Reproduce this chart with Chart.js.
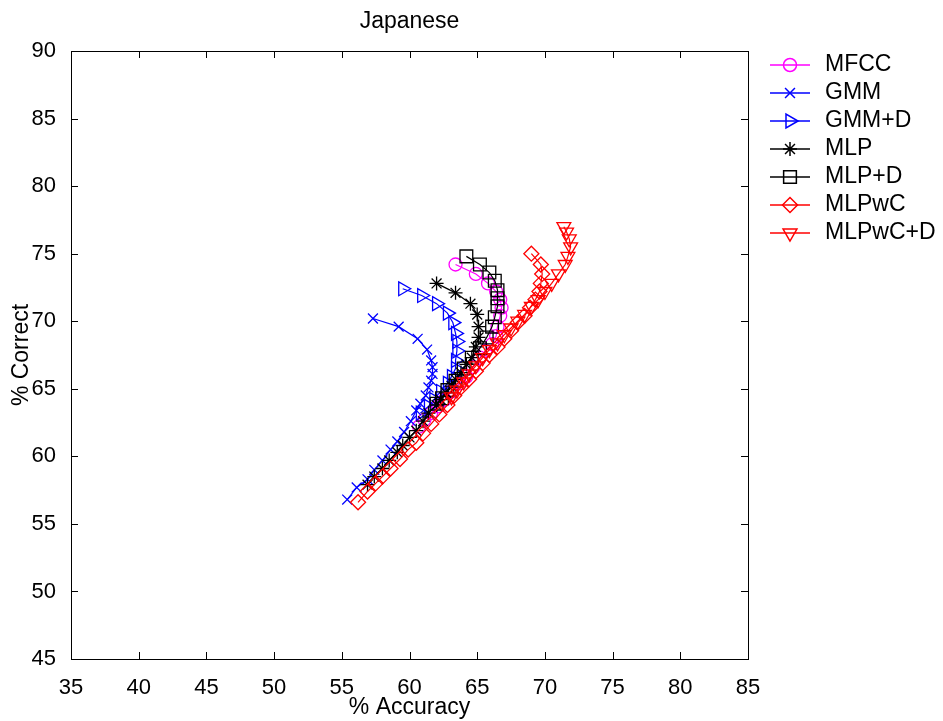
<!DOCTYPE html>
<html>
<head>
<meta charset="utf-8">
<title>Japanese</title>
<script src="https://cdn.jsdelivr.net/npm/chart.js@4"></script>
<style>
  body { margin: 0; background: #fff; }
</style>
</head>
<body>
<canvas id="myChart" width="943" height="721"></canvas>
<script>
// values (% accuracy, % correct)
let mfccAcc = [63.4,64.9,65.8,66.4,66.7,66.8,66.7,66.5,66.4,66.1,65.6,65.2,64.7,64.2,63.7,63.1,62.6,62.1,61.6,61.1,60.7];
let mfccCor = [74.2,73.5,72.8,72.2,71.6,71.0,70.4,69.6,68.9,68.3,67.8,67.3,66.6,65.9,65.4,64.8,64.2,63.7,63.2,62.7,62.2];

let gmmAcc = [57.3,59.2,60.6,61.3,61.6,61.7,61.7,61.6,61.4,61.2,60.8,60.5,60.1,59.6,59.1,58.6,58.0,57.4,56.9,56.1,55.4];
let gmmCor = [70.2,69.6,68.7,67.9,67.1,66.6,66.1,65.6,65.1,64.5,63.9,63.4,62.6,61.8,61.1,60.5,59.7,59.0,58.3,57.7,56.8];

let gmmDAcc = [59.5,60.9,62.0,62.8,63.2,63.4,63.5,63.5,63.4,63.4,63.1,62.8,62.3,61.8,61.4,60.8];
let gmmDCor = [72.4,71.9,71.3,70.6,69.9,69.1,68.5,67.8,67.1,66.5,65.9,65.4,64.8,64.2,63.7,63.2];

let mlpAcc = [62.0,63.4,64.5,65.0,65.1,65.1,64.9,64.6,64.2,63.8,63.4,63.1,62.7,62.3,62.0,61.4,61.0,60.5,60.0,59.5,59.1,58.5,58.0,57.4,56.9];
let mlpCor = [72.8,72.1,71.3,70.5,69.6,68.8,68.1,67.3,66.8,66.2,65.7,65.2,64.7,64.2,63.8,63.2,62.6,61.9,61.4,60.8,60.3,59.7,59.1,58.5,57.9];

let mlpDAcc = [64.2,65.2,65.9,66.3,66.5,66.5,66.5,66.3,66.1,65.7,65.2,64.6,64.0,63.4,62.8,62.4,62.0];
let mlpDCor = [74.8,74.2,73.6,73.0,72.3,71.7,71.1,70.3,69.6,68.8,68.0,67.3,66.5,65.6,64.9,64.3,63.9];

let mlpwcAcc = [69.0,69.7,69.8,69.7,69.6,69.3,68.9,68.5,68.0,67.5,67.0,66.5,65.9,65.4,64.9,64.4,63.8,63.3,62.8,62.2,61.6,61.0,60.5,59.9,59.3,58.6,58.0,57.5,56.9,56.2];
let mlpwcCor = [75.0,74.2,73.5,72.8,72.2,71.6,71.0,70.4,69.9,69.3,68.7,68.1,67.5,66.9,66.3,65.7,65.1,64.5,63.8,63.1,62.4,61.7,61.0,60.5,59.8,59.1,58.5,58.0,57.4,56.6];

let mlpwcDAcc = [71.4,71.6,71.8,71.9,71.7,71.5,71.0,70.5,70.0,69.5,69.0,68.5,68.0,67.5,67.0,66.5,65.9,65.4,64.9,64.4,64.0,63.5,63.1];
let mlpwcDCor = [77.0,76.6,76.1,75.5,74.8,74.2,73.5,72.8,72.2,71.6,71.1,70.5,70.0,69.5,69.0,68.4,67.9,67.3,66.7,66.1,65.5,64.9,64.4];

let xTicks = [35,40,45,50,55,60,65,70,75,80,85];
let yTicks = [45,50,55,60,65,70,75,80,85,90];

const titleText = 'Japanese';
const fontFam = "'Liberation Sans', Arial, sans-serif";

function pts(xs, ys) {
    return xs.map((v, i) => ({x: v, y: ys[i]}));
}

function series(label, xs, ys, color, style, radius, rotation, order) {
    return {
        label: label,
        data: pts(xs, ys),
        showLine: true,
        borderColor: color,
        backgroundColor: 'rgba(0,0,0,0)',
        borderWidth: 1.2,
        pointStyle: style,
        pointRadius: radius,
        pointRotation: rotation,
        pointBorderColor: color,
        pointBackgroundColor: 'rgba(0,0,0,0)',
        pointBorderWidth: 1.3,
        tension: 0,
        order: order
    };
}

// box round the plot with inward ticks on all four sides, title over the plot
const frameTicks = {
    id: 'frameTicks',
    afterDatasetsDraw(chart) {
        const {ctx, chartArea: a, scales: {x, y}} = chart;
        ctx.save();
        ctx.strokeStyle = '#000';
        ctx.lineWidth = 1;
        ctx.strokeRect(a.left + 0.5, a.top + 0.5, a.right - a.left, a.bottom - a.top);
        ctx.beginPath();
        xTicks.forEach(v => {
            const px = Math.round(x.getPixelForValue(v)) + 0.5;
            ctx.moveTo(px, a.bottom); ctx.lineTo(px, a.bottom - 7);
            ctx.moveTo(px, a.top); ctx.lineTo(px, a.top + 7);
        });
        yTicks.forEach(v => {
            const py = Math.round(y.getPixelForValue(v)) + 0.5;
            ctx.moveTo(a.left, py); ctx.lineTo(a.left + 7, py);
            ctx.moveTo(a.right, py); ctx.lineTo(a.right - 7, py);
        });
        ctx.stroke();

        ctx.fillStyle = '#000';
        ctx.font = '23px ' + fontFam;
        ctx.textAlign = 'center';
        ctx.textBaseline = 'middle';
        ctx.fillText(titleText, (a.left + a.right) / 2, 22);
        ctx.restore();
    }
};

// matlab style legend: short line with the marker in the middle
const sideLegend = {
    id: 'sideLegend',
    afterDraw(chart) {
        const ctx = chart.ctx;
        const x0 = 770, x1 = 810, tx = 825, top = 65, step = 28;
        chart.data.datasets.forEach((ds, i) => {
            const yy = top + i * step;
            ctx.save();
            ctx.strokeStyle = ds.borderColor;
            ctx.lineWidth = 1.5;
            ctx.beginPath();
            ctx.moveTo(x0, yy);
            ctx.lineTo(x1, yy);
            ctx.stroke();
            ctx.strokeStyle = ds.borderColor;
            ctx.fillStyle = 'rgba(0,0,0,0)';
            Chart.helpers.drawPoint(ctx, {
                pointStyle: ds.pointStyle,
                radius: ds.pointRadius,
                rotation: ds.pointRotation,
                borderWidth: 1.3
            }, (x0 + x1) / 2, yy);
            ctx.restore();
            ctx.save();
            ctx.fillStyle = '#000';
            ctx.font = '23px ' + fontFam;
            ctx.textBaseline = 'middle';
            ctx.textAlign = 'left';
            ctx.fillText(ds.label, tx, yy);
            ctx.restore();
        });
    }
};

Chart.defaults.font.family = fontFam;
Chart.defaults.color = '#000';

const ctx = document.getElementById('myChart').getContext('2d');

const myChart = new Chart(ctx, {
    type: 'scatter',
    data: {
        datasets: [
            series('MFCC', mfccAcc, mfccCor, '#ff00ff', 'circle', 6.5, 0, 7),
            series('GMM', gmmAcc, gmmCor, '#0000ff', 'crossRot', 7, 0, 6),
            series('GMM+D', gmmDAcc, gmmDCor, '#0000ff', 'triangle', 8, 90, 5),
            series('MLP', mlpAcc, mlpCor, '#000000', 'star', 7, 0, 4),
            series('MLP+D', mlpDAcc, mlpDCor, '#000000', 'rect', 9, 0, 3),
            series('MLPwC', mlpwcAcc, mlpwcCor, '#ff0000', 'rectRot', 7.5, 0, 2),
            series('MLPwC+D', mlpwcDAcc, mlpwcDCor, '#ff0000', 'triangle', 8, 180, 1)
        ]
    },
    options: {
        responsive: false,
        animation: false,
        devicePixelRatio: 1,
        layout: {
            padding: {left: 0, right: 195, top: 51, bottom: 0}
        },
        scales: {
            x: {
                type: 'linear',
                min: 35,
                max: 85,
                afterFit: s => { s.height = 62; },
                afterBuildTicks: s => { s.ticks = xTicks.map(v => ({value: v})); },
                grid: {display: false},
                border: {display: false},
                ticks: {padding: 8, maxRotation: 0, autoSkip: false, font: {size: 22}},
                title: {
                    display: true,
                    text: '% Accuracy',
                    font: {size: 23},
                    padding: {top: 1, bottom: 0}
                }
            },
            y: {
                type: 'linear',
                min: 45,
                max: 90,
                afterFit: s => { s.width = 71; },
                afterBuildTicks: s => { s.ticks = yTicks.map(v => ({value: v})); },
                grid: {display: false},
                border: {display: false},
                ticks: {padding: 7, autoSkip: false, font: {size: 22}},
                title: {
                    display: true,
                    text: '% Correct',
                    font: {size: 23},
                    padding: {top: 8, bottom: 0}
                }
            }
        },
        plugins: {
            legend: {display: false},
            tooltip: {enabled: false},
            title: {display: false}
        }
    },
    plugins: [frameTicks, sideLegend]
});
</script>
</body>
</html>
